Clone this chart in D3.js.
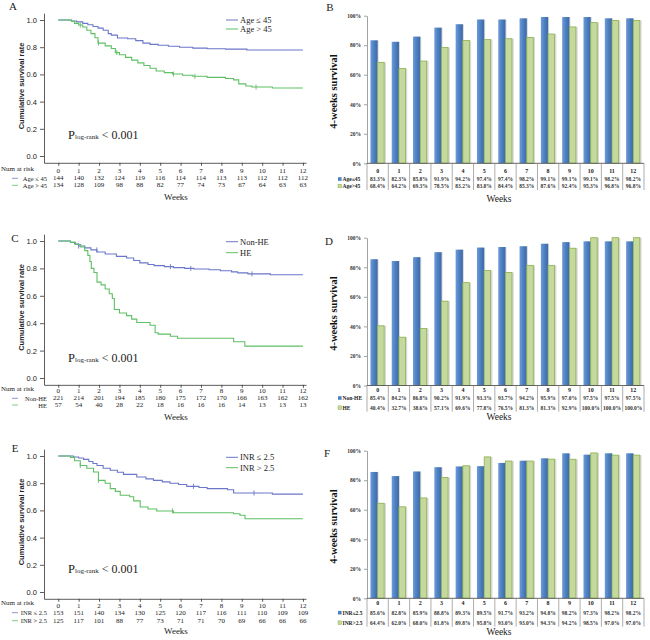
<!DOCTYPE html>
<html>
<head>
<meta charset="utf-8">
<script src="https://cdn.jsdelivr.net/npm/d3@7"></script>
<style>
  body { margin: 0; background: #fff; }
  svg { display: block; }
</style>
</head>
<body>
<div id="chart"></div>
<script>
// weeks (categories for every panel)
const weeks = [0, 1, 2, 3, 4, 5, 6, 7, 8, 9, 10, 11, 12];

// Kaplan-Meier steps: [week, survival]
const ageLowSteps = [[0,1],[0.65,0.993],[0.9,0.986],[1.2,0.975],[1.45,0.965],[1.7,0.952],[1.95,0.94],[2.2,0.925],[2.45,0.9],[2.6,0.889],[2.9,0.868],[3.4,0.862],[3.8,0.848],[4.15,0.83],[4.5,0.821],[4.9,0.814],[5.4,0.807],[5.95,0.8],[6.6,0.793],[7.3,0.789],[8.2,0.786],[9.25,0.779],[12,0.779]];
const ageHighSteps = [[0,1],[0.65,0.99],[0.8,0.975],[1.0,0.963],[1.2,0.948],[1.4,0.925],[1.6,0.9],[1.8,0.87],[1.95,0.83],[2.3,0.81],[2.6,0.79],[2.8,0.76],[3.0,0.745],[3.3,0.725],[3.6,0.705],[3.9,0.685],[4.2,0.665],[4.5,0.645],[4.8,0.625],[5.2,0.613],[5.6,0.603],[6.1,0.594],[6.6,0.586],[7.3,0.578],[8.2,0.57],[8.6,0.56],[8.85,0.53],[9.2,0.515],[9.5,0.507],[10.5,0.5],[12,0.5]];
const ageLowCensor = [];
const ageHighCensor = [1.08, 1.97, 2.87, 5.65, 6.7, 9.7];

const nonHESteps = [[0,1],[0.6,0.99],[0.8,0.978],[1.0,0.963],[1.3,0.95],[1.6,0.935],[1.9,0.92],[2.3,0.905],[2.85,0.888],[3.35,0.876],[3.7,0.858],[4.0,0.84],[4.4,0.828],[4.7,0.82],[5.2,0.813],[5.65,0.806],[6.2,0.8],[6.65,0.796],[7.4,0.79],[7.95,0.783],[8.5,0.775],[8.8,0.767],[9.3,0.76],[10.4,0.754],[12,0.754]];
const heSteps = [[0,1],[0.6,0.99],[0.85,0.975],[1.1,0.956],[1.3,0.93],[1.45,0.895],[1.55,0.85],[1.62,0.8],[1.75,0.77],[1.9,0.7],[2.1,0.68],[2.3,0.65],[2.5,0.615],[2.65,0.58],[2.75,0.5],[3.0,0.475],[3.35,0.455],[3.6,0.43],[3.85,0.405],[4.5,0.385],[4.75,0.33],[4.9,0.32],[5.5,0.305],[5.85,0.29],[8.6,0.265],[9.15,0.233],[12,0.233]];
const nonHECensor = [1.0, 1.89, 5.5, 6.5, 9.5];
const heCensor = [];

const inrLowSteps = [[0,1],[0.75,0.993],[1.0,0.985],[1.24,0.975],[1.5,0.96],[1.7,0.945],[1.9,0.93],[2.2,0.91],[2.55,0.895],[2.9,0.88],[3.2,0.865],[3.85,0.846],[4.3,0.832],[4.67,0.821],[5.1,0.81],[5.48,0.8],[5.9,0.79],[6.3,0.777],[6.9,0.768],[7.3,0.76],[8.3,0.752],[8.6,0.728],[10.5,0.72],[12,0.72]];
const inrHighSteps = [[0,1],[0.6,0.99],[0.8,0.965],[1.08,0.93],[1.4,0.91],[1.73,0.882],[1.97,0.821],[2.3,0.8],[2.55,0.76],[2.8,0.74],[3.04,0.711],[3.5,0.7],[3.7,0.67],[4.02,0.625],[4.4,0.61],[4.83,0.596],[5.65,0.583],[8.6,0.575],[8.91,0.564],[9.16,0.539],[12,0.539]];
const inrLowCensor = [6.63, 9.6];
const inrHighCensor = [1.08, 1.97, 5.6];

// number at risk
const riskAgeLow = [144,140,132,124,119,116,114,114,113,113,112,112,112];
const riskAgeHigh = [134,128,109,98,88,82,77,74,73,67,64,63,63];
const riskNonHE = [221,214,201,194,185,180,175,172,170,166,163,162,162];
const riskHE = [57,54,40,28,22,18,16,16,16,14,13,13,13];
const riskInrLow = [153,151,140,134,130,125,120,117,116,111,110,109,109];
const riskInrHigh = [125,117,101,88,77,73,71,71,70,69,66,66,66];

// 4-weeks survival (%)
const survAgeLow = [83.3,82.3,85.8,91.9,94.2,97.4,97.4,98.2,99.1,99.1,99.1,98.2,98.2];
const survAgeHigh = [68.4,64.2,69.3,78.5,83.2,83.8,84.4,85.3,87.6,92.4,95.3,96.8,96.8];
const survNonHE = [85.4,84.2,86.8,90.2,91.9,93.3,93.7,94.2,95.9,97.0,97.5,97.5,97.5];
const survHE = [40.4,32.7,38.6,57.1,69.6,77.8,76.5,81.3,81.3,92.9,100.0,100.0,100.0];
const survInrLow = [85.6,82.8,85.9,88.8,89.3,89.5,91.7,93.2,94.8,98.2,97.3,98.2,98.2];
const survInrHigh = [64.4,62.0,68.0,81.8,89.8,95.8,93.0,93.0,94.3,94.2,98.5,97.0,97.0];

const yTicks = [0, 0.2, 0.4, 0.6, 0.8, 1.0];
const pctTicks = [0, 20, 40, 60, 80, 100];

const serif = "'Liberation Serif', 'Times New Roman', serif";
const sans = "'Liberation Sans', Arial, sans-serif";
const kmBlue = "#6b77c9";
const kmGreen = "#5fc065";

const svg = d3.select("#chart").append("svg")
  .attr("width", 650).attr("height", 640);

const defs = svg.append("defs");
const grad = defs.append("linearGradient").attr("id", "blueBar")
  .attr("x1", "0").attr("x2", "1").attr("y1", "0").attr("y2", "0");
grad.append("stop").attr("offset", "0%").attr("stop-color", "#6d9bd8");
grad.append("stop").attr("offset", "45%").attr("stop-color", "#4f82c4");
grad.append("stop").attr("offset", "100%").attr("stop-color", "#3b68a8");

function survAt(steps, t) {
  let s = 1;
  steps.forEach(d => { if (d[0] <= t) s = d[1]; });
  return s;
}

function drawKM(p) {
  const g = svg.append("g");
  const h = p.y0 - p.y1;
  const y = d3.scaleLinear().domain([-0.05, 1.05]).range([p.y0 + 0.05 * h, p.y1 - 0.05 * h]);
  const x = d3.scaleLinear().domain([-0.7, 12.15]).range([44, 306]);
  const axisY = y(-0.05);

  // y axis
  const ya = g.append("g").attr("transform", "translate(44,0)")
    .call(d3.axisLeft(y).tickValues(yTicks).tickFormat(d3.format(".1f")).tickSize(4).tickSizeOuter(0));
  ya.selectAll("text").style("font-family", sans).style("font-size", "7.5px").attr("fill", "#222");
  ya.selectAll("line,path").attr("stroke", "#333").attr("stroke-width", 0.8);

  // x axis
  const xa = g.append("g").attr("transform", `translate(0,${axisY})`)
    .call(d3.axisBottom(x).tickValues(weeks).tickFormat("").tickSize(3).tickSizeOuter(0));
  xa.selectAll("line,path").attr("stroke", "#333").attr("stroke-width", 0.8);

  // week labels
  g.selectAll(".wk").data(weeks).join("text")
    .attr("x", d => x(d)).attr("y", p.tickY)
    .attr("text-anchor", "middle").attr("dominant-baseline", "central")
    .style("font-family", serif).style("font-size", "7px").attr("fill", "#222")
    .text(d => d);

  // curves
  const line = d3.line().x(d => x(d[0])).y(d => y(d[1])).curve(d3.curveStepAfter);
  p.series.forEach(s => {
    g.append("path").datum(s.steps)
      .attr("fill", "none").attr("stroke", s.color).attr("stroke-width", 1.1)
      .attr("d", line);
    g.selectAll(null).data(s.censor).join("line")
      .attr("x1", d => x(d)).attr("x2", d => x(d))
      .attr("y1", d => y(survAt(s.steps, d)) - 2.5)
      .attr("y2", d => y(survAt(s.steps, d)) + 2.5)
      .attr("stroke", s.color).attr("stroke-width", 0.9);
  });

  // legend
  p.series.forEach((s, i) => {
    const ly = p.legY[i];
    g.append("line").attr("x1", 226).attr("x2", 238).attr("y1", ly).attr("y2", ly)
      .attr("stroke", s.color).attr("stroke-width", 1);
    g.append("text").attr("x", 240).attr("y", ly).attr("dominant-baseline", "central")
      .style("font-family", serif).style("font-size", "8.5px").attr("fill", "#222")
      .text(s.name);
  });

  // number at risk
  g.append("text").attr("x", 1).attr("y", p.narY).attr("dominant-baseline", "central")
    .style("font-family", serif).style("font-size", "7px").attr("fill", "#222")
    .text("Num at risk");
  p.series.forEach((s, i) => {
    const ry = p.rowY[i];
    g.append("line").attr("x1", 12).attr("x2", 18).attr("y1", ry).attr("y2", ry)
      .attr("stroke", s.color).attr("stroke-width", 0.8);
    g.append("text").attr("x", 47).attr("y", ry).attr("text-anchor", "end").attr("dominant-baseline", "central")
      .style("font-family", serif).style("font-size", "6.5px").attr("fill", "#222")
      .text(s.name);
    g.selectAll(null).data(s.risk).join("text")
      .attr("x", (d, j) => x(weeks[j])).attr("y", ry)
      .attr("text-anchor", "middle").attr("dominant-baseline", "central")
      .style("font-family", serif).style("font-size", "7px").attr("fill", "#222")
      .text(d => d);
  });

  g.append("text").attr("x", 176).attr("y", p.weeksY).attr("text-anchor", "middle").attr("dominant-baseline", "central")
    .style("font-family", serif).style("font-size", "9px").attr("fill", "#222").text("Weeks");

  // axis title
  g.append("text").attr("transform", `translate(21,${(p.y0 + p.y1) / 2 - 2}) rotate(-90)`)
    .attr("text-anchor", "middle").attr("dominant-baseline", "central")
    .style("font-family", sans).style("font-size", "7.5px").style("font-weight", "bold").attr("fill", "#222")
    .text("Cumulative survival rate");

  // p value
  const pt = g.append("text").attr("x", 68).attr("y", p.pY)
    .style("font-family", serif).attr("fill", "#222");
  pt.append("tspan").style("font-size", "12.5px").text("P");
  pt.append("tspan").style("font-size", "7px").text("log-rank");
  pt.append("tspan").style("font-size", "12px").text(" < 0.001");

  // panel letter
  g.append("text").attr("x", p.letter[0]).attr("y", p.letter[1]).attr("text-anchor", "middle")
    .attr("dominant-baseline", "central")
    .style("font-family", serif).style("font-size", "11px").attr("fill", "#222").text(p.label);
}

function drawBars(p) {
  const g = svg.append("g");
  const x0 = d3.scaleBand().domain(weeks).range([367, 644]).paddingInner(0.32).paddingOuter(0.16);
  const x1 = d3.scaleBand().domain([0, 1]).range([0, x0.bandwidth()]);
  const y = d3.scaleLinear().domain([0, 100]).range([p.y0, p.y1]);
  const step = x0.step();
  const left = x0.range()[0];

  // y axis
  const ya = g.append("g").attr("transform", "translate(367,0)")
    .call(d3.axisLeft(y).tickValues(pctTicks).tickFormat(d => d + "%").tickSize(3).tickSizeOuter(0));
  ya.selectAll("text").style("font-family", serif).style("font-size", "5.5px").style("font-weight", "bold").attr("fill", "#333");
  ya.selectAll("line,path").attr("stroke", "#8a8a8a").attr("stroke-width", 0.8);

  // bars
  p.series.forEach((s, i) => {
    g.selectAll(null).data(s.values).join("rect")
      .attr("x", (d, j) => x0(weeks[j]) + x1(i) + 1).attr("y", d => y(d))
      .attr("width", x1.bandwidth()).attr("height", d => p.y0 - y(d))
      .attr("fill", "#d8d8d8");
    g.selectAll(null).data(s.values).join("rect")
      .attr("x", (d, j) => x0(weeks[j]) + x1(i)).attr("y", d => y(d))
      .attr("width", i === 0 ? x1.bandwidth() : x1.bandwidth() - 0.8)
      .attr("height", d => p.y0 - y(d))
      .attr("fill", i === 0 ? "url(#blueBar)" : "#c5d99e")
      .attr("stroke", i === 0 ? "none" : "#8db24e").attr("stroke-width", 0.8);
  });

  // table grid
  const bottom = p.rowY[1] + 4;
  g.append("line").attr("x1", 367).attr("x2", 644).attr("y1", p.y0).attr("y2", p.y0)
    .attr("stroke", "#555").attr("stroke-width", 0.9);
  g.selectAll(null).data(d3.range(weeks.length + 1)).join("line")
    .attr("x1", d => left + d * step).attr("x2", d => left + d * step)
    .attr("y1", p.y0).attr("y2", bottom)
    .attr("stroke", "#8a8a8a").attr("stroke-width", 0.7);

  g.selectAll(".cat").data(weeks).join("text")
    .attr("x", d => x0(d) + x0.bandwidth() / 2).attr("y", p.catY)
    .attr("text-anchor", "middle").attr("dominant-baseline", "central")
    .style("font-family", serif).style("font-size", "6px").style("font-weight", "bold").attr("fill", "#222")
    .text(d => d);

  p.series.forEach((s, i) => {
    const ry = p.rowY[i];
    g.append("rect").attr("x", 338).attr("y", ry - 1.8).attr("width", 3.6).attr("height", 3.6)
      .attr("fill", i === 0 ? "#4f81bd" : "#c5d99e").attr("stroke", i === 0 ? "none" : "#8db24e").attr("stroke-width", 0.5);
    g.append("text").attr("x", 342.5).attr("y", ry).attr("dominant-baseline", "central")
      .style("font-family", serif).style("font-size", "5.5px").style("font-weight", "bold").attr("fill", "#222")
      .text(s.name);
    g.selectAll(null).data(s.values).join("text")
      .attr("x", (d, j) => x0(weeks[j]) + x0.bandwidth() / 2).attr("y", ry)
      .attr("text-anchor", "middle").attr("dominant-baseline", "central")
      .style("font-family", serif).style("font-size", "5.5px").style("font-weight", "bold").attr("fill", "#333")
      .text(d => d.toFixed(1) + "%");
  });

  g.append("text").attr("x", 499).attr("y", p.weeksY).attr("text-anchor", "middle").attr("dominant-baseline", "central")
    .style("font-family", serif).style("font-size", "9.5px").attr("fill", "#222").text("Weeks");

  g.append("text").attr("transform", `translate(333,${(p.y0 + p.y1) / 2 + 2}) rotate(-90)`)
    .attr("text-anchor", "middle").attr("dominant-baseline", "central")
    .style("font-family", serif).style("font-size", "10.5px").style("font-weight", "bold").attr("fill", "#111")
    .text("4-weeks survival");

  g.append("text").attr("x", p.letter[0]).attr("y", p.letter[1]).attr("text-anchor", "middle")
    .attr("dominant-baseline", "central")
    .style("font-family", serif).style("font-size", "11px").attr("fill", "#222").text(p.label);
}

drawKM({
  label: "A", letter: [13, 6], y1: 20, y0: 156,
  tickY: 171.3, narY: 169, rowY: [178.3, 185.3], weeksY: 196.7, pY: 139, legY: [20, 29],
  series: [
    { name: "Age \u2264 45", color: kmBlue, steps: ageLowSteps, censor: ageLowCensor, risk: riskAgeLow },
    { name: "Age > 45", color: kmGreen, steps: ageHighSteps, censor: ageHighCensor, risk: riskAgeHigh }
  ]
});

drawKM({
  label: "C", letter: [15, 238], y1: 241, y0: 378,
  tickY: 391, narY: 389, rowY: [398.3, 405], weeksY: 416.7, pY: 362, legY: [241.7, 252.7],
  series: [
    { name: "Non-HE", color: kmBlue, steps: nonHESteps, censor: nonHECensor, risk: riskNonHE },
    { name: "HE", color: kmGreen, steps: heSteps, censor: heCensor, risk: riskHE }
  ]
});

drawKM({
  label: "E", letter: [15, 448], y1: 456, y0: 592,
  tickY: 606, narY: 603.3, rowY: [612.7, 620.7], weeksY: 630.7, pY: 573, legY: [457.3, 467.7],
  series: [
    { name: "INR \u2264 2.5", color: kmBlue, steps: inrLowSteps, censor: inrLowCensor, risk: riskInrLow },
    { name: "INR > 2.5", color: kmGreen, steps: inrHighSteps, censor: inrHighCensor, risk: riskInrHigh }
  ]
});

drawBars({
  label: "B", letter: [330, 7], y1: 15.7, y0: 163.3,
  catY: 170.7, rowY: [179, 186], weeksY: 199,
  series: [
    { name: "Age\u226445", values: survAgeLow },
    { name: "Age>45", values: survAgeHigh }
  ]
});

drawBars({
  label: "D", letter: [329, 241], y1: 237.7, y0: 385.5,
  catY: 389.5, rowY: [398, 407.7], weeksY: 416.7,
  series: [
    { name: "Non-HE", values: survNonHE },
    { name: "HE", values: survHE }
  ]
});

drawBars({
  label: "F", letter: [327, 453], y1: 450.7, y0: 598.3,
  catY: 603.3, rowY: [612.7, 622.7], weeksY: 631.7,
  series: [
    { name: "INR\u22642.5", values: survInrLow },
    { name: "INR>2.5", values: survInrHigh }
  ]
});
</script>
</body>
</html>
